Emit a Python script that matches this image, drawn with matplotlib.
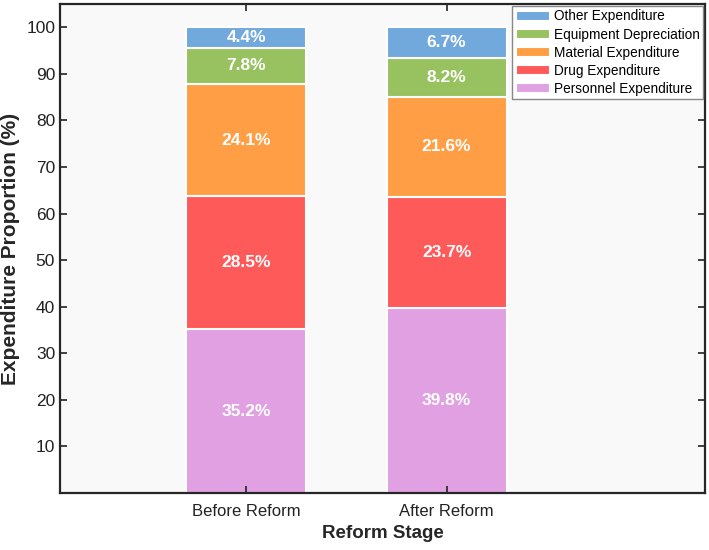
import matplotlib.pyplot as plt
import numpy as np

plt.rcParams['font.family'] = ['Liberation Sans', 'DejaVu Sans']

stages = ['Before Reform', 'After Reform']
categories = ['Personnel Expenditure', 'Drug Expenditure', 'Material Expenditure',
              'Equipment Depreciation', 'Other Expenditure']
personnel = [35.2, 39.8]
drug = [28.5, 23.7]
material = [24.1, 21.6]
equipment = [7.8, 8.2]
other = [4.4, 6.7]
colors = ['#e0a0e2', '#ff5a5a', '#ff9e44', '#98c260', '#72a9dd']

series = [personnel, drug, material, equipment, other]

fig = plt.figure(figsize=(7.09, 5.5), dpi=100)
ax = fig.add_axes([60 / 709, 1 - 493 / 550, 645 / 709, 489 / 550])
ax.set_facecolor('#f9f9f9')

x = np.arange(len(stages))
bottom = np.zeros(len(stages))
handles = []
for vals, col, lab in zip(series, colors, categories):
    bars = ax.bar(x, vals, 0.6, bottom=bottom, color=col, edgecolor='white',
                  linewidth=1.5, label=lab)
    handles.append(bars)
    for xi, b, v in zip(x, bottom, vals):
        ax.text(xi, b + v / 2, f'{v}%', ha='center', va='center',
                color='white', fontsize=12.5, fontweight='bold')
    bottom += np.array(vals)

ax.set_xlim(-0.93, 2.29)
ax.set_ylim(0, 105)
ax.set_xticks(x)
ax.set_xticklabels(stages)
ax.set_yticks(range(10, 101, 10))
ax.tick_params(direction='in', length=5, width=1.2, labelsize=12.5,
               colors='#222222', top=True, right=True)
ax.tick_params(axis='x', labelsize=12, pad=8)
for s in ax.spines.values():
    s.set_linewidth(1.6)
    s.set_color('#262626')

ax.set_xlabel('Reform Stage', fontsize=13.5, fontweight='bold', color='#262626', labelpad=4)
ax.set_ylabel('Expenditure Proportion (%)', fontsize=15, fontweight='bold',
              color='#262626', va='center')
ax.yaxis.set_label_coords(-49 / 645, 0.5)

leg = ax.legend(handles[::-1], categories[::-1], loc='upper right', fontsize=9.8,
                frameon=True, fancybox=False, edgecolor='#888888', framealpha=1,
                borderaxespad=0.15, handlelength=2.5, handleheight=0.75,
                handletextpad=0.3, labelspacing=0.3, borderpad=0.25)
leg.get_frame().set_linewidth(1.0)

fig.savefig('out.png', dpi=100)
